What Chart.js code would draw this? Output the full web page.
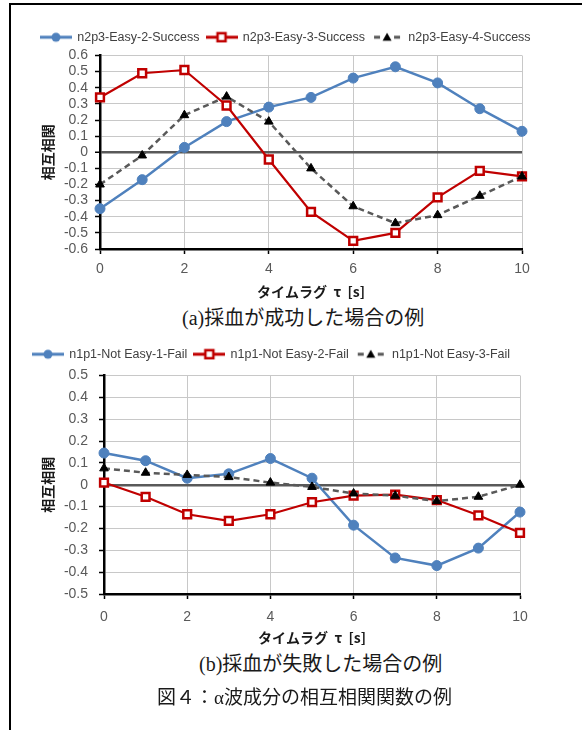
<!DOCTYPE html>
<html><head><meta charset="utf-8">
<script src="https://cdn.jsdelivr.net/npm/chart.js@4.4.0/dist/chart.umd.min.js"></script>
<style>
html,body{margin:0;padding:0;background:#fff;}
body{width:582px;height:730px;position:relative;overflow:hidden;}
canvas{position:absolute;left:0;}
.cap{position:absolute;font-family:'Liberation Serif','Noto Sans CJK JP',serif;color:#1a1a1a;white-space:nowrap;line-height:24px;height:24px;}
#frame{position:absolute;left:9px;top:3px;width:620px;height:760px;border-top:2px solid #000;border-left:2px solid #000;}
</style></head><body>
<canvas id="c1" width="582" height="305" style="top:0"></canvas>
<canvas id="c2" width="582" height="320" style="top:330px"></canvas>
<div class="cap" style="left:182px;top:306px;font-size:20px">(a)採血が成功した場合の例</div>
<div class="cap" style="left:199px;top:652px;font-size:20px">(b)採血が失敗した場合の例</div>
<div class="cap" style="left:157px;top:686px;font-size:19px">図４：α波成分の相互相関関数の例</div>
<div id="frame"></div>
<script>
// ---- data ----
const lags = [0, 1, 2, 3, 4, 5, 6, 7, 8, 9, 10];

const namesA = ['n2p3-Easy-2-Success', 'n2p3-Easy-3-Success', 'n2p3-Easy-4-Success'];
const easy2 = [-0.35, -0.17, 0.03, 0.19, 0.28, 0.34, 0.46, 0.53, 0.43, 0.27, 0.13];
const easy3 = [0.34, 0.49, 0.51, 0.29, -0.045, -0.37, -0.55, -0.50, -0.28, -0.115, -0.15];
const easy4 = [-0.20, -0.02, 0.23, 0.345, 0.19, -0.10, -0.335, -0.44, -0.39, -0.27, -0.15];

const namesB = ['n1p1-Not Easy-1-Fail', 'n1p1-Not Easy-2-Fail', 'n1p1-Not Easy-3-Fail'];
const notEasy1 = [0.145, 0.11, 0.03, 0.05, 0.12, 0.03, -0.185, -0.335, -0.37, -0.29, -0.125];
const notEasy2 = [0.01, -0.055, -0.135, -0.165, -0.135, -0.08, -0.05, -0.045, -0.07, -0.14, -0.22];
const notEasy3 = [0.075, 0.055, 0.045, 0.035, 0.01, -0.01, -0.04, -0.05, -0.075, -0.055, 0.0];

const yRangeA = [-0.6, 0.6];
const yRangeB = [-0.5, 0.5];
const xRange = [0, 10];
const yTitle = '相互相関';
const xTitle = 'タイムラグ  τ  [s]';

// ---- styles ----
const BLUE = '#4f81bd', RED = '#c00000', GRAY = '#595959';
const isZero = v => Math.abs(v) < 1e-9;
const fmtY = v => isZero(v) ? '0' : String(Math.round(v * 10) / 10);

function toPts(arr) { return lags.map((x, i) => ({x: x, y: arr[i]})); }

function makeDatasets(names, vals) {
  return [
    {label: names[0], data: toPts(vals[0]), borderColor: BLUE, backgroundColor: BLUE, borderWidth: 2.5,
     pointStyle: 'circle', pointRadius: 5, pointBackgroundColor: BLUE, pointBorderColor: BLUE, pointBorderWidth: 1, order: 3},
    {label: names[1], data: toPts(vals[1]), borderColor: RED, backgroundColor: '#fff', borderWidth: 2.2,
     pointStyle: 'rect', pointRadius: 5.5, pointBackgroundColor: '#fff', pointBorderColor: RED, pointBorderWidth: 2.5, order: 2},
    {label: names[2], data: toPts(vals[2]), borderColor: GRAY, backgroundColor: '#000', borderWidth: 2.5, borderDash: [6, 4],
     pointStyle: 'triangle', pointRadius: 5, pointBackgroundColor: '#000', pointBorderColor: '#000', pointBorderWidth: 1, order: 1}
  ].map(d => Object.assign(d, {xAxisID: 'x', yAxisID: 'y', tension: 0, clip: false, fill: false, pointHoverRadius: d.pointRadius}));
}

function legendMarker(kind) {
  const c = document.createElement('canvas');
  c.width = 32; c.height = 12;
  const g = c.getContext('2d');
  const cy = 6;
  g.lineWidth = 3;
  if (kind === 0) {
    g.strokeStyle = BLUE; g.beginPath(); g.moveTo(0, cy); g.lineTo(32, cy); g.stroke();
    g.fillStyle = BLUE; g.beginPath(); g.arc(16, cy, 4.5, 0, Math.PI * 2); g.fill();
  } else if (kind === 1) {
    g.strokeStyle = RED; g.beginPath(); g.moveTo(0, cy); g.lineTo(32, cy); g.stroke();
    g.fillStyle = '#fff'; g.fillRect(12, 2, 8, 8);
    g.lineWidth = 2.5; g.strokeRect(12, 2, 8, 8);
  } else {
    g.strokeStyle = GRAY;
    g.beginPath(); g.moveTo(3, cy); g.lineTo(9, cy); g.moveTo(23, cy); g.lineTo(29, cy); g.stroke();
    g.fillStyle = '#000'; g.beginPath(); g.moveTo(16, 1.5); g.lineTo(20.5, 9.5); g.lineTo(11.5, 9.5); g.closePath(); g.fill();
  }
  return c;
}
const markers = [legendMarker(0), legendMarker(1), legendMarker(2)];

const tickFont = {family: 'Liberation Sans', size: 14};
const titleFont = {family: 'Noto Sans CJK JP', size: 14, weight: 'bold'};

function makeChart(id, names, vals, yr, o) {
  return new Chart(document.getElementById(id), {
    type: 'line',
    data: {datasets: makeDatasets(names, vals)},
    options: {
      responsive: false, animation: false, events: [],
      layout: {padding: {left: o.pl, right: 5, top: o.pt, bottom: 0}},
      plugins: {
        tooltip: {enabled: false},
        legend: {
          display: true, position: 'top', align: 'start',
          labels: {
            usePointStyle: true, pointStyleWidth: 30, padding: 7, color: '#404040',
            font: {family: 'Liberation Sans', size: 12.5},
            generateLabels(chart) {
              const items = Chart.defaults.plugins.legend.labels.generateLabels(chart);
              items.sort((a, b) => a.datasetIndex - b.datasetIndex);
              items.forEach(it => { it.pointStyle = markers[it.datasetIndex]; it.fontColor = '#404040'; });
              return items;
            }
          }
        }
      },
      scales: {
        x: {
          type: 'linear', position: 'bottom', min: xRange[0], max: xRange[1],
          afterFit(s) { s.height = o.xh; },
          ticks: {stepSize: 2, autoSkip: false, maxRotation: 0, padding: o.xpad, color: '#595959', font: tickFont, callback: v => String(v)},
          grid: {color: '#c8c8c8', lineWidth: 1, tickColor: '#000', tickLength: 5, tickWidth: 1.5},
          border: {color: '#000', width: 2.5},
          title: {display: true, text: xTitle, color: '#1a1a1a', font: titleFont, padding: {top: 0, bottom: o.xtb}}
        },
        y: {
          type: 'linear', position: 'left', min: yr[0], max: yr[1],
          afterFit(s) { s.width = o.yw; },
          ticks: {stepSize: 0.1, autoSkip: false, maxTicksLimit: 40, padding: o.ypad, color: '#595959', font: tickFont, callback: fmtY},
          grid: {
            color: c => (c.tick && isZero(c.tick.value)) ? '#595959' : '#c8c8c8',
            lineWidth: c => (c.tick && isZero(c.tick.value)) ? 2.5 : 1,
            tickColor: '#000', tickLength: 5, tickWidth: 1.5
          },
          border: {color: '#000', width: 2.5},
          title: {display: true, text: yTitle, color: '#1a1a1a', font: titleFont, padding: {top: o.ytp, bottom: 0}}
        },
        gapTop: {
          axis: 'x', type: 'linear', position: 'top', display: true,
          grid: {display: false, drawTicks: false}, border: {display: false}, ticks: {display: false},
          afterFit(s) { s.height = o.gap; }
        },
        gapRight: {
          axis: 'y', type: 'linear', position: 'right', display: true,
          grid: {display: false, drawTicks: false}, border: {display: false}, ticks: {display: false},
          afterFit(s) { s.width = o.rw; }
        }
      }
    }
  });
}

makeChart('c1', namesA, [easy2, easy3, easy4], yRangeA,
  {pl: 34, pt: 24, gap: 2, yw: 66, ypad: 7, ytp: 5.6, rw: 55, xh: 56, xpad: 6.5, xtb: 5});
makeChart('c2', namesB, [notEasy1, notEasy2, notEasy3], yRangeB,
  {pl: 26, pt: 11, gap: 5, yw: 78, ypad: 11, ytp: 13.6, rw: 57, xh: 56, xpad: 9.5, xtb: 3.6});
</script>
</body></html>
